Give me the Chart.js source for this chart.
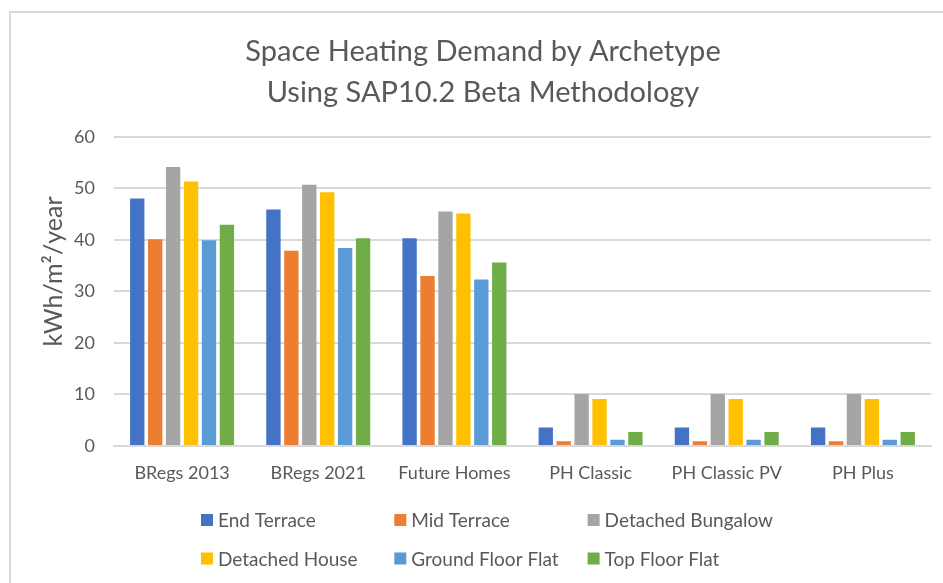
<!DOCTYPE html>
<html>
<head>
<meta charset="utf-8">
<script src="https://cdn.jsdelivr.net/npm/chart.js@4/dist/chart.umd.min.js"></script>
<style>
  html, body { margin: 0; padding: 0; background: #fff; }
  #wrap { position: relative; width: 943px; height: 583px; }
</style>
</head>
<body>
<div id="wrap"><canvas id="c" width="943" height="583"></canvas></div>
<script>
const categories = ["BRegs 2013", "BRegs 2021", "Future Homes", "PH Classic", "PH Classic PV", "PH Plus"];
const seriesNames = ["End Terrace", "Mid Terrace", "Detached Bungalow", "Detached House", "Ground Floor Flat", "Top Floor Flat"];
const endTerrace      = [48.0, 45.9, 40.3, 3.6, 3.6, 3.6];
const midTerrace      = [40.1, 37.9, 33.0, 0.9, 0.9, 0.9];
const detBungalow     = [54.1, 50.7, 45.5, 10.1, 10.1, 10.1];
const detHouse        = [51.3, 49.2, 45.1, 9.1, 9.1, 9.1];
const groundFloorFlat = [39.9, 38.4, 32.3, 1.2, 1.2, 1.2];
const topFloorFlat    = [42.9, 40.3, 35.6, 2.7, 2.7, 2.7];
const yTicks = [0, 10, 20, 30, 40, 50, 60];
const titleLines = ["Space Heating Demand by Archetype", "Using SAP10.2 Beta Methodology"];
const yAxisTitle = "kWh/m\u00B2/year";

const colors = ["#4472C4", "#ED7D31", "#A5A5A5", "#FFC000", "#5B9BD5", "#70AD47"];
const seriesValues = [endTerrace, midTerrace, detBungalow, detHouse, groundFloorFlat, topFloorFlat];
const FONT = "Lato, 'Open Sans', sans-serif";
const TXT = "#595959";

const frame = {
  id: 'frame',
  beforeDraw(chart) {
    const ctx = chart.ctx;
    ctx.save();
    ctx.fillStyle = '#ffffff';
    ctx.fillRect(0, 0, chart.width, chart.height);
    ctx.strokeStyle = '#d9d9d9';
    ctx.lineWidth = 2;
    ctx.beginPath();
    ctx.moveTo(10, chart.height);
    ctx.lineTo(10, 12);
    ctx.lineTo(chart.width, 12);
    ctx.stroke();
    ctx.restore();
  }
};

const axisTitle = {
  id: 'axisTitle',
  afterDraw(chart) {
    const ctx = chart.ctx;
    ctx.save();
    ctx.translate(54, 271.5);
    ctx.rotate(-Math.PI / 2);
    ctx.font = "25px " + FONT;
    ctx.fillStyle = TXT;
    ctx.textAlign = 'center';
    ctx.textBaseline = 'middle';
    ctx.fillText(yAxisTitle, 0, 0);
    ctx.restore();
  }
};

const gridLegend = {
  id: 'gridLegend',
  afterDraw(chart) {
    const ctx = chart.ctx;
    ctx.save();
    ctx.font = "19px " + FONT;
    ctx.textBaseline = 'middle';
    ctx.textAlign = 'left';
    chart.data.datasets.forEach((ds, i) => {
      const col = i % 3, row = Math.floor(i / 3);
      const x = 201 + col * 193.3;
      const y = 520 + row * 38.5;
      ctx.fillStyle = ds.backgroundColor;
      ctx.fillRect(x, y - 6, 12, 12);
      ctx.fillStyle = TXT;
      ctx.fillText(ds.label, x + 17, y + 1);
    });
    ctx.restore();
  }
};

new Chart(document.getElementById('c'), {
  type: 'bar',
  data: {
    labels: categories,
    datasets: seriesNames.map((name, i) => ({
      label: name,
      data: seriesValues[i],
      backgroundColor: colors[i],
      borderWidth: 0,
      categoryPercentage: 0.79,
      barPercentage: 0.8
    }))
  },
  options: {
    responsive: false,
    animation: false,
    devicePixelRatio: 1,
    layout: { padding: { left: 35, right: 12, top: 10, bottom: 97 } },
    plugins: {
      legend: { display: false },
      tooltip: { enabled: false },
      title: {
        display: true,
        text: titleLines,
        color: TXT,
        font: { family: FONT, size: 29, weight: 'normal', lineHeight: 41 / 29 },
        padding: { top: 21.5, bottom: 23.2 }
      }
    },
    scales: {
      x: {
        grid: { display: false, drawTicks: false },
        border: { display: true, color: '#d9d9d9', width: 2 },
        ticks: { color: TXT, font: { family: FONT, size: 18 }, padding: 16, maxRotation: 0 },
        afterFit(s) { s.height = 40; }
      },
      y: {
        min: 0, max: 60,
        afterBuildTicks(s) { s.ticks = yTicks.map(v => ({ value: v })); },
        grid: { color: '#d9d9d9', lineWidth: 2, drawTicks: false },
        border: { display: false },
        ticks: { color: TXT, font: { family: FONT, size: 18 }, padding: 19 },
        title: { display: false },
        afterFit(s) { s.width = 79; }
      }
    }
  },
  plugins: [frame, axisTitle, gridLegend]
});
</script>
</body>
</html>
